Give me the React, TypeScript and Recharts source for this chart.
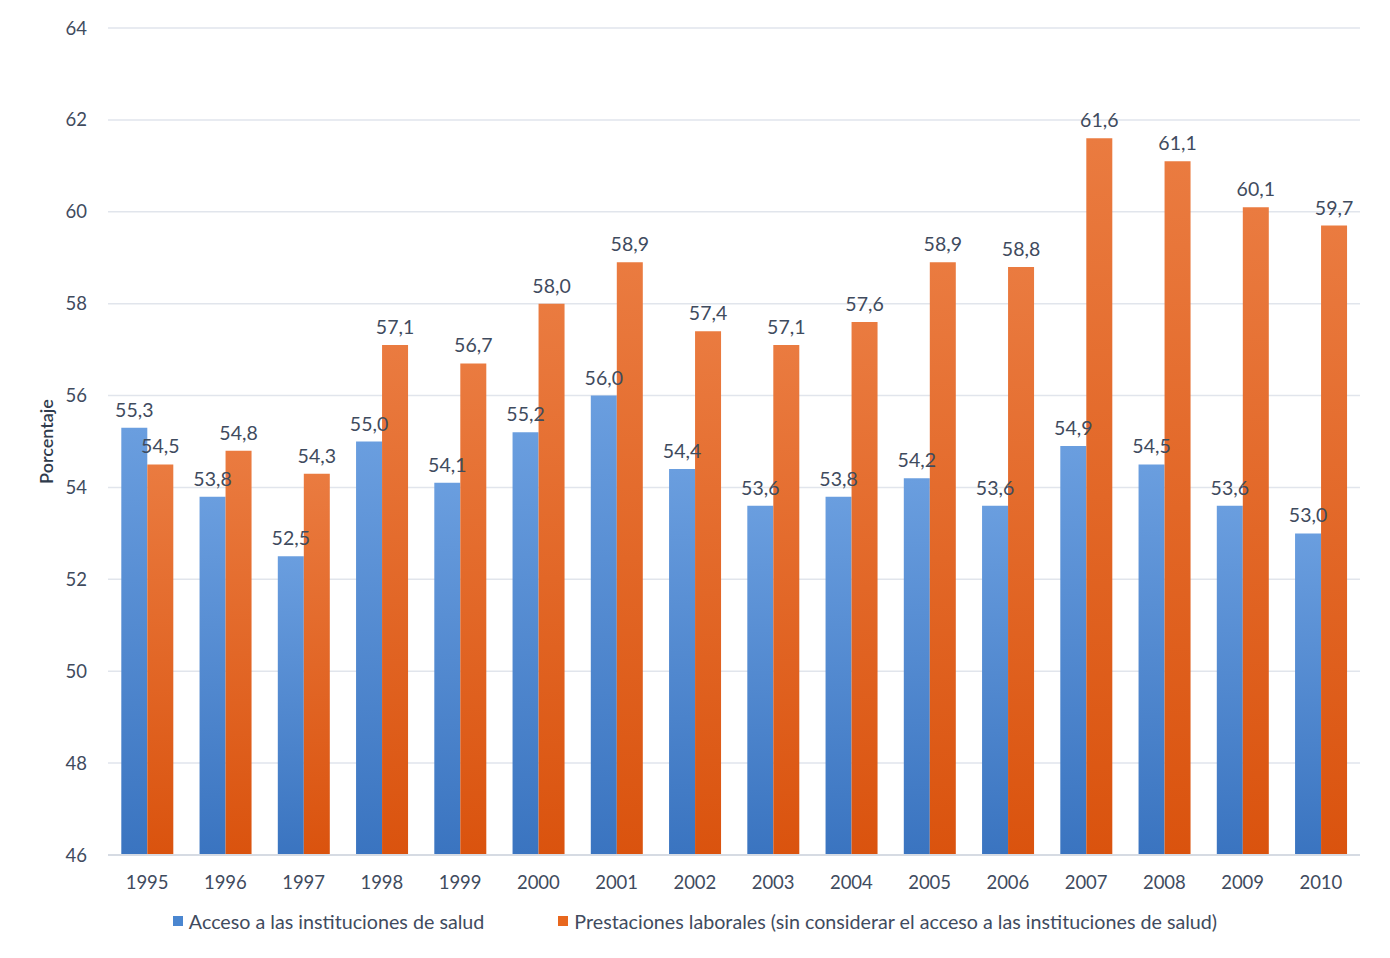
import React from "react";
import {
  BarChart,
  Bar,
  XAxis,
  YAxis,
  CartesianGrid,
  Legend,
  LabelList,
} from "recharts";

const years = [
  "1995", "1996", "1997", "1998", "1999", "2000", "2001", "2002",
  "2003", "2004", "2005", "2006", "2007", "2008", "2009", "2010",
];
const acceso = [55.3, 53.8, 52.5, 55.0, 54.1, 55.2, 56.0, 54.4, 53.6, 53.8, 54.2, 53.6, 54.9, 54.5, 53.6, 53.0];
const prestaciones = [54.5, 54.8, 54.3, 57.1, 56.7, 58.0, 58.9, 57.4, 57.1, 57.6, 58.9, 58.8, 61.6, 61.1, 60.1, 59.7];
const yTicks = [46, 48, 50, 52, 54, 56, 58, 60, 62, 64];

const seriesNames = {
  acceso: "Acceso a las instituciones de salud",
  prestaciones: "Prestaciones laborales (sin considerar el acceso a las instituciones de salud)",
};

const data = years.map((year, i) => ({
  year,
  acceso: acceso[i],
  prestaciones: prestaciones[i],
}));

const FONT = "Lato, 'Open Sans', sans-serif";
const TEXT = "#3f4b5e";

const fmt = (v: number) => v.toFixed(1).replace(".", ",");

function ChartLegend() {
  const items = [
    { name: seriesNames.acceso, color: "#4a86d0" },
    { name: seriesNames.prestaciones, color: "#e8671e" },
  ];
  return (
    <div
      style={{
        display: "flex",
        justifyContent: "center",
        alignItems: "center",
        height: 30,
        gap: 74,
        marginLeft: 30,
        fontFamily: FONT,
        fontSize: 19.7,
        color: TEXT,
      }}
    >
      {items.map((it) => (
        <div key={it.name} style={{ display: "flex", alignItems: "center", gap: 6 }}>
          <span style={{ width: 10, height: 10, background: it.color, display: "inline-block" }} />
          <span>{it.name}</span>
        </div>
      ))}
    </div>
  );
}

export default function App() {
  return (
    <div style={{ position: "absolute", left: 0, top: 0, background: "#fff" }}>
      <BarChart
        width={1390}
        height={958}
        data={data}
        margin={{ top: 28, right: 30, bottom: 22, left: 0 }}
        barCategoryGap="17%"
        barGap={0}
      >
        <defs>
          <linearGradient id="gBlue" x1="0" y1="0" x2="0" y2="1">
            <stop offset="0%" stopColor="#6a9edf" />
            <stop offset="100%" stopColor="#3a74c0" />
          </linearGradient>
          <linearGradient id="gOrange" x1="0" y1="0" x2="0" y2="1">
            <stop offset="0%" stopColor="#ea7b40" />
            <stop offset="100%" stopColor="#da530e" />
          </linearGradient>
        </defs>
        <CartesianGrid vertical={false} stroke="#e1e5ec" strokeWidth={1.5} />
        <XAxis
          dataKey="year"
          height={51}
          tickLine={false}
          tickSize={0}
          tickMargin={21}
          axisLine={{ stroke: "#d6dbe3", strokeWidth: 2 }}
          tick={{ fill: TEXT, fontSize: 18.5, fontFamily: FONT }}
          interval={0}
        />
        <YAxis
          width={108}
          domain={[46, 64]}
          ticks={yTicks}
          allowDataOverflow
          axisLine={false}
          tickLine={false}
          tickSize={0}
          tickMargin={21}
          tick={{ fill: TEXT, fontSize: 18.5, fontFamily: FONT }}
          label={{
            value: "Porcentaje",
            angle: -90,
            position: "insideLeft",
            offset: 47,
            style: { textAnchor: "middle", fill: "#2f3b4c", fontSize: 18, fontFamily: FONT, fontWeight: 600 },
          }}
        />
        <Legend verticalAlign="bottom" content={() => <ChartLegend />} />
        <Bar dataKey="acceso" name={seriesNames.acceso} fill="url(#gBlue)" isAnimationActive={false}>
          <LabelList
            dataKey="acceso"
            position="top"
            offset={11}
            formatter={(v: any) => fmt(Number(v))}
            style={{ fill: TEXT, fontSize: 19.5, fontFamily: FONT }}
          />
        </Bar>
        <Bar dataKey="prestaciones" name={seriesNames.prestaciones} fill="url(#gOrange)" isAnimationActive={false}>
          <LabelList
            dataKey="prestaciones"
            position="top"
            offset={11}
            formatter={(v: any) => fmt(Number(v))}
            style={{ fill: TEXT, fontSize: 19.5, fontFamily: FONT }}
          />
        </Bar>
      </BarChart>
    </div>
  );
}
